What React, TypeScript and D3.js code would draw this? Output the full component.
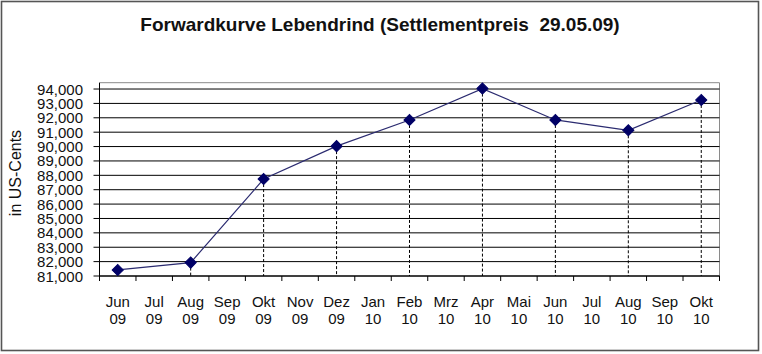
import React from "react";
import * as d3 from "d3";

const title = "Forwardkurve Lebendrind (Settlementpreis  29.05.09)";
const yTitle = "in US-Cents";

const categories = [
  "Jun 09", "Jul 09", "Aug 09", "Sep 09", "Okt 09", "Nov 09", "Dez 09", "Jan 10", "Feb 10",
  "Mrz 10", "Apr 10", "Mai 10", "Jun 10", "Jul 10", "Aug 10", "Sep 10", "Okt 10",
];

const pricedMonths = ["Jun 09", "Aug 09", "Okt 09", "Dez 09", "Feb 10", "Apr 10", "Jun 10", "Aug 10", "Okt 10"];
const prices = [81.42, 81.93, 87.74, 90.03, 91.85, 94.03, 91.85, 91.13, 93.24];

const yTicks = [81, 82, 83, 84, 85, 86, 87, 88, 89, 90, 91, 92, 93, 94];
const yTickLabels = [
  "81,000", "82,000", "83,000", "84,000", "85,000", "86,000", "87,000",
  "88,000", "89,000", "90,000", "91,000", "92,000", "93,000", "94,000",
];

const W = 762;
const H = 354;
const font = "'Liberation Sans', Arial, sans-serif";

export default function App() {
  const x = d3.scaleBand<string>().domain(categories).range([99.5, 719.5]);
  const y = d3.scaleLinear().domain([81, 94.44]).range([276, 82.7]);

  const pts = pricedMonths.map((m, i) => ({
    cx: (x(m) ?? 0) + x.bandwidth() / 2,
    cy: y(prices[i]),
  }));

  const line = d3
    .line<{ cx: number; cy: number }>()
    .x((d) => d.cx)
    .y((d) => d.cy);

  const diamond = d3.symbol().type(d3.symbolSquare).size(62)();

  const [x0, x1] = x.range();
  const yBottom = y(81);
  const yTop = y.range()[1];

  return (
    <svg
      width={W}
      height={H}
      style={{ position: "absolute", left: 0, top: 0, background: "#fff" }}
      fontFamily={font}
    >
      <rect x={0} y={0} width={W} height={H} fill="#fff" />
      <rect x={1.5} y={1.5} width={757} height={349} fill="none" stroke="#555" strokeWidth={1.6} />

      <text x={380} y={31} textAnchor="middle" fontSize={19} fontWeight="bold" fill="#111">
        {title.replace("  ", "\u00a0 ")}
      </text>

      {/* plot frame top/right */}
      <line x1={x0} x2={x1} y1={yTop} y2={yTop} stroke="#8a8a8a" />
      <line x1={x1} x2={x1} y1={yTop} y2={yBottom} stroke="#8a8a8a" />

      {/* gridlines */}
      {yTicks.map((t) => (
        <line key={t} x1={x0 - 6} x2={x1} y1={y(t)} y2={y(t)} stroke="#000" strokeWidth={1} />
      ))}

      {/* y tick labels */}
      {yTicks.map((t, i) => (
        <text
          key={"l" + t}
          x={83}
          y={y(t) + 5.5}
          textAnchor="end"
          fontSize={15}
          fill="#111"
        >
          {yTickLabels[i]}
        </text>
      ))}

      <text
        transform={`translate(21,173) rotate(-90)`}
        textAnchor="middle"
        fontSize={16}
        fill="#111"
      >
        {yTitle}
      </text>

      {/* axes */}
      <line x1={x0} x2={x0} y1={yTop} y2={yBottom} stroke="#000" />
      <line x1={x0} x2={x1} y1={yBottom} y2={yBottom} stroke="#000" />
      {categories.concat(["_end"]).map((c, i) => {
        const tx = x0 + i * x.bandwidth();
        return <line key={"t" + i} x1={tx} x2={tx} y1={yBottom} y2={yBottom + 5} stroke="#000" />;
      })}

      {/* x labels */}
      {categories.map((c) => {
        const [m, yr] = c.split(" ");
        const cx = (x(c) ?? 0) + x.bandwidth() / 2;
        return (
          <g key={"x" + c} fontSize={15} fill="#111" textAnchor="middle">
            <text x={cx} y={307}>{m}</text>
            <text x={cx} y={324}>{yr}</text>
          </g>
        );
      })}

      {/* drop lines */}
      {pts.map((p, i) => (
        <line
          key={"d" + i}
          x1={p.cx}
          x2={p.cx}
          y1={p.cy}
          y2={yBottom}
          stroke="#000"
          strokeDasharray="3,2"
        />
      ))}

      <path d={line(pts) ?? ""} fill="none" stroke="#2b2b70" strokeWidth={1.2} />

      {pts.map((p, i) => (
        <path
          key={"m" + i}
          d={diamond ?? ""}
          transform={`translate(${p.cx},${p.cy}) rotate(45)`}
          fill="#000066"
          stroke="#000066"
        />
      ))}
    </svg>
  );
}
